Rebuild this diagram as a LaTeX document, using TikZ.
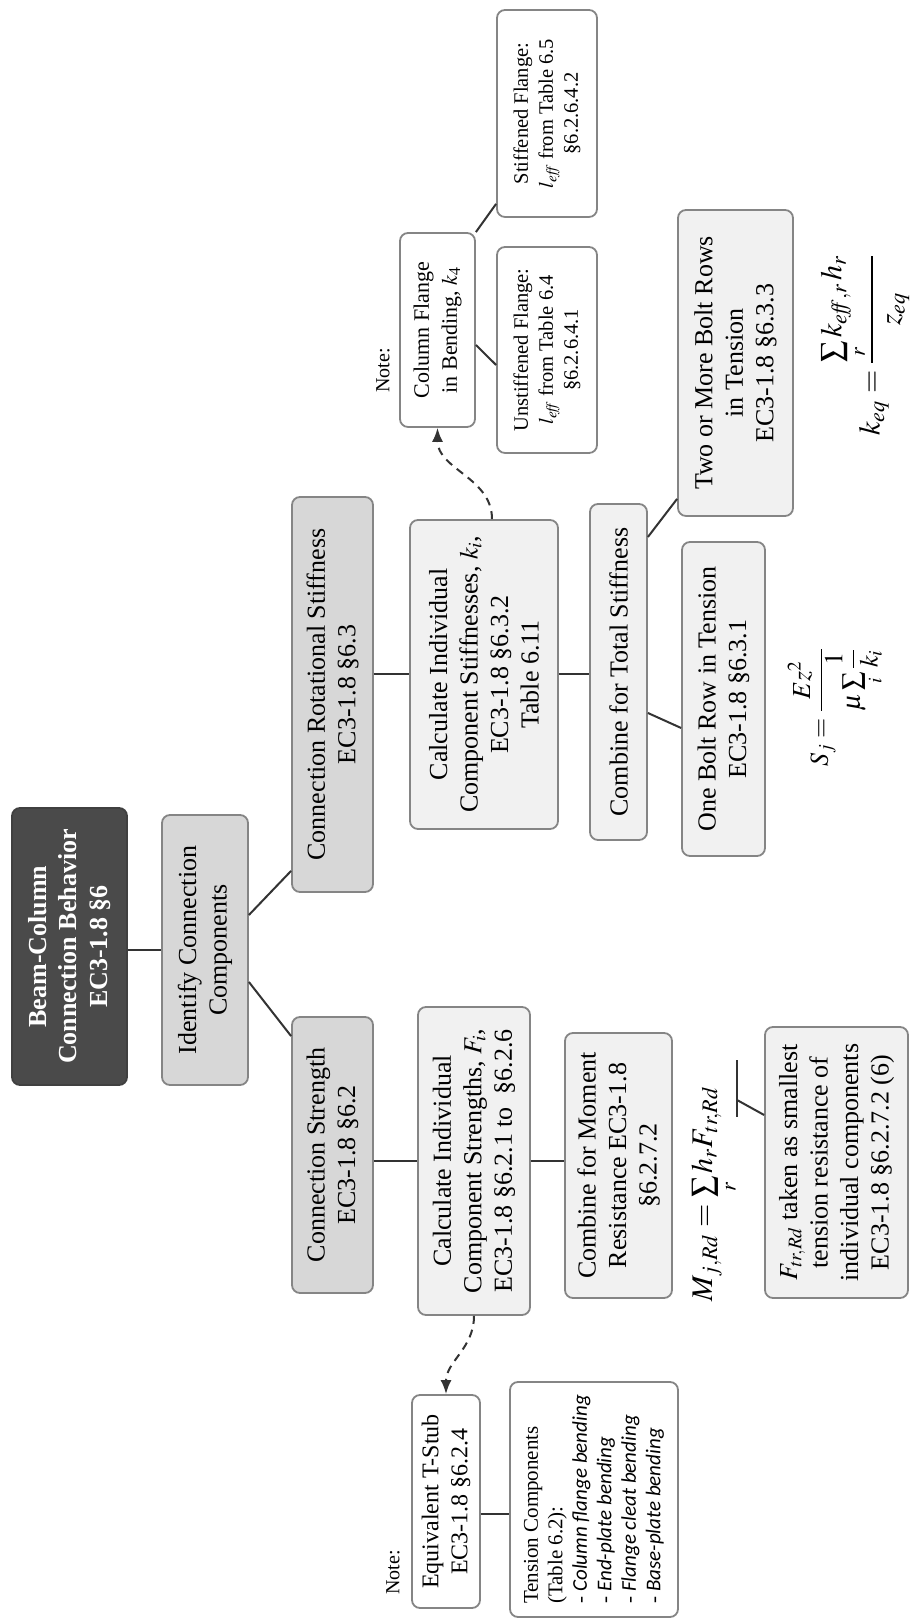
\documentclass[tikz,border=0pt]{standalone}
\usepackage{amsmath}
\usepackage{mathptmx}
\usepackage{fontspec}
\setmainfont{Liberation Serif}
\newfontfamily\itemfont{Carlito}
\usetikzlibrary{arrows.meta,calc}

\definecolor{darkfill}{HTML}{4A4A4A}
\definecolor{midfill}{HTML}{D7D7D7}
\definecolor{lightfill}{HTML}{F1F1F1}
\definecolor{edgegray}{HTML}{858585}
\definecolor{linegray}{HTML}{333333}

\tikzset{
  box/.style={rectangle,rounded corners=8pt,draw=edgegray,line width=1.8pt,align=center,inner sep=3pt,
    font=\fontsize{26}{30.5}\selectfont},
  darkbox/.style={box,fill=darkfill,draw=black!75,text=white,font=\fontsize{26}{30.5}\selectfont\bfseries},
  midbox/.style={box,fill=midfill},
  lightbox/.style={box,fill=lightfill},
  notebox/.style={box,fill=white},
  smallbox/.style={notebox,font=\fontsize{20.5}{25}\selectfont},
  notelabel/.style={anchor=west,inner sep=0pt,font=\fontsize{20}{24}\selectfont},
  formula/.style={inner sep=0pt},
  link/.style={draw=linegray,line width=2pt},
  noteline/.style={link,dash pattern=on 8pt off 6pt,-{Latex[length=14pt,width=11pt]}}
}

\begin{document}
\begin{tikzpicture}[x=1pt,y=1pt]
\useasboundingbox (0,0) rectangle (910,1619);
\begin{scope}[rotate=90,transform shape]
  % main column
  \node[darkbox,minimum width=277pt,minimum height=115pt] (beam) at (672.5,-69.5)
    {Beam-Column\\Connection Behavior\\EC3-1.8 §6};
  \node[midbox,minimum width=270pt,minimum height=86pt] (ident) at (669,-205)
    {Identify Connection\\Components};
  \node[midbox,minimum width=395pt,minimum height=81pt] (crs) at (924.5,-332.5)
    {Connection Rotational Stiffness\\EC3-1.8 §6.3};
  \node[midbox,minimum width=276pt,minimum height=81pt] (cs) at (464,-332.5)
    {Connection Strength\\EC3-1.8 §6.2};

  % stiffness branch
  \node[lightbox,minimum width=309pt,minimum height=148pt] (calcK) at (944.5,-484)
    {Calculate Individual\\Component Stiffnesses, $k_i$,\\EC3-1.8 §6.3.2\\Table 6.11};
  \node[lightbox,minimum width=336pt,minimum height=57pt] (combK) at (947,-618.5)
    {Combine for Total Stiffness};
  \node[lightbox,minimum width=314pt,minimum height=83pt] (onebolt) at (920,-723.5)
    {One Bolt Row in Tension\\EC3-1.8 §6.3.1};
  \node[lightbox,minimum width=306pt,minimum height=115pt] (twobolt) at (1256,-735.5)
    {Two or More Bolt Rows\\in Tension\\EC3-1.8 §6.3.3};
  \node[formula] (sform) at (912,-836)
    {\fontsize{26}{30}\selectfont$S_j=\dfrac{E z^2}{\mu\sum\limits_i\dfrac{1}{k_i}}$};
  \node[formula] (kform) at (1274,-865)
    {\fontsize{30}{34}\selectfont$k_{eq}=\dfrac{\sum\limits_r k_{\mathit{eff},r}\,h_r}{z_{eq}}$};

  % strength branch
  \node[lightbox,minimum width=308pt,minimum height=112pt] (calcF) at (458,-474)
    {Calculate Individual\\Component Strengths, $F_i$,\\EC3-1.8 §6.2.1 to \ §6.2.6};
  \node[lightbox,minimum width=265pt,minimum height=107pt] (combM) at (453.5,-618.5)
    {Combine for Moment\\Resistance EC3-1.8\\§6.2.7.2};
  \node[formula] (mform) at (425,-715)
    {\fontsize{30}{34}\selectfont$M_{j,Rd}=\sum\limits_r h_r F_{tr,Rd}$};
  \node[lightbox,minimum width=271pt,minimum height=143pt] (ftr) at (456.5,-836.5)
    {$F_{tr,Rd}$ taken as smallest\\tension resistance of\\individual components\\EC3-1.8 §6.2.7.2 (6)};
  \coordinate (ulA) at (502,-737);
  \coordinate (ulB) at (559,-737);
  \coordinate (ulM) at (519,-737);

  % note: column flange
  \node[notelabel] (note1) at (1226,-383) {Note:};
  \node[notebox,minimum width=194pt,minimum height=75pt,font=\fontsize{22}{28}\selectfont] (flange) at (1289,-437.5)
    {Column Flange\\in Bending, $k_4$};
  \node[smallbox,minimum width=207pt,minimum height=100pt] (stiff) at (1505.5,-547)
    {Stiffened Flange:\\$l_{\mathit{eff}}$ from Table 6.5\\§6.2.6.4.2};
  \node[smallbox,minimum width=206pt,minimum height=100pt] (unstiff) at (1269,-547)
    {Unstiffened Flange:\\$l_{\mathit{eff}}$ from Table 6.4\\§6.2.6.4.1};

  % note: T-stub
  \node[notelabel] (note2) at (24,-393) {Note:};
  \node[notebox,minimum width=213pt,minimum height=68pt,font=\fontsize{24}{29}\selectfont] (tstub) at (117.5,-446)
    {Equivalent T-Stub\\EC3-1.8 §6.2.4};
  \node[notebox,minimum width=235pt,minimum height=168pt,align=left,font=\fontsize{21}{24.5}\selectfont] (tension) at (119.5,-594)
    {Tension Components\\(Table 6.2):\\- {\itemfont\itshape Column flange bending}\\- {\itemfont\itshape End-plate bending}\\
     - {\itemfont\itshape Flange cleat bending}\\- {\itemfont\itshape Base-plate bending}};

  % connectors
  \draw[link] (ident.north |- beam.south) -- (ident.north);
  \draw[link] ($(ident.south)+(35,0)$) -- ($(crs.north west)+(22,0)$);
  \draw[link] ($(ident.south)+(-32,0)$) -- ($(cs.north east)+(-20,0)$);
  \draw[link] (calcK.north |- crs.south) -- (calcK.north);
  \draw[link] (calcK.south) -- (calcK.south |- combK.north);
  \draw[link] ($(combK.south)+(-41,0)$) -- ($(onebolt.north)+(-29,0)$);
  \draw[link] ($(combK.south)+(135,0)$) -- ($(twobolt.north west)+(18,0)$);
  \draw[link] (calcF.north |- cs.south) -- (calcF.north);
  \draw[link] (calcF.south) -- (calcF.south |- combM.north);
  \draw[link] (flange.south east) -- ($(stiff.north west)+(14,0)$);
  \draw[link] ($(flange.south)+(-15,0)$) -- ($(unstiff.north)+(-15,0)$);
  \draw[link] ($(tstub.south)+(-13,0)$) coordinate (t1) -- (t1 |- tension.north);
  \draw[link] (ulA) -- (ulB);
  \draw[link] (ulM) -- ($(ftr.north)+(47.5,0)$);

  % note arrows
  \draw[noteline] ($(calcK.east)+(0,-8)$) to[out=0,in=180] (flange.west);
  \draw[noteline] (calcF.west) to[out=180,in=0] (tstub.east);
\end{scope}
\end{tikzpicture}
\end{document}
